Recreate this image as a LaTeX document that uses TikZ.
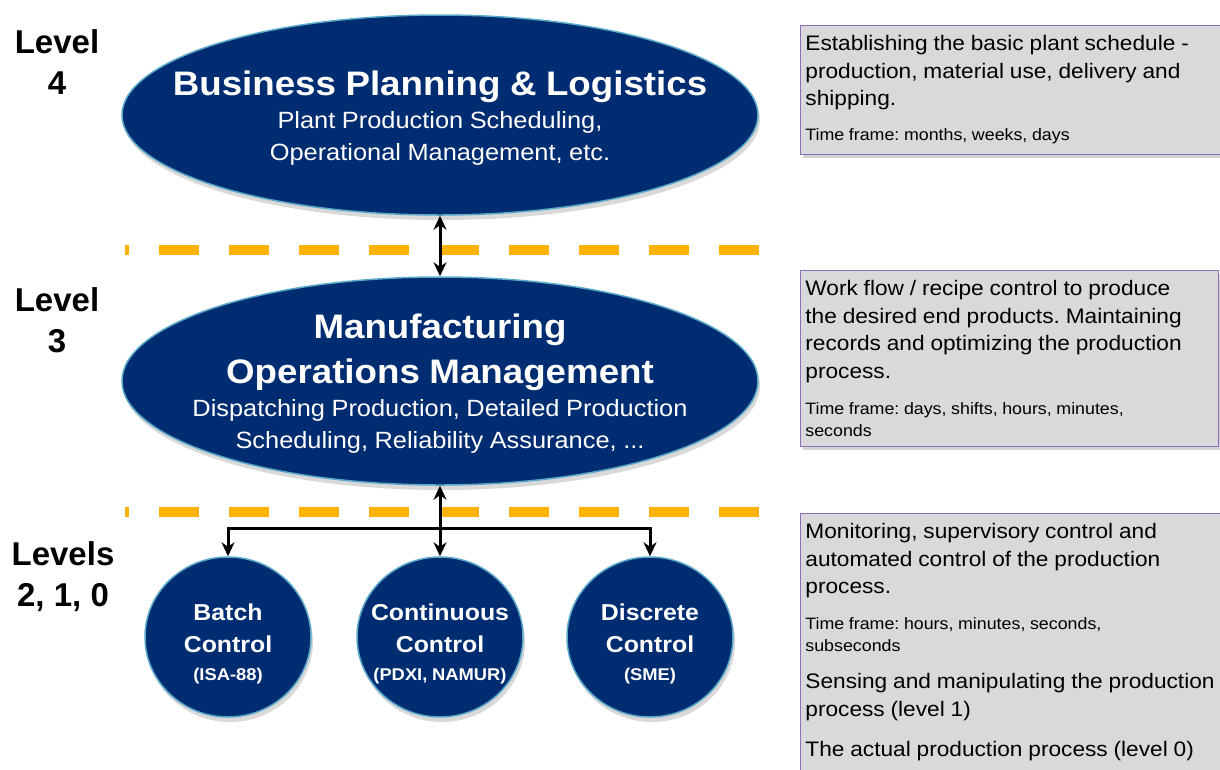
\documentclass[tikz,border=0pt]{standalone}
\usepackage{fontspec}
\setmainfont{Liberation Sans}
\newfontfamily\wide[FakeStretch=1.08]{Liberation Sans}
\usetikzlibrary{arrows.meta,shapes.geometric,shadows}

\definecolor{isanavy}{HTML}{002D72}
\definecolor{isarim}{HTML}{5AA9C8}
\definecolor{isaorange}{HTML}{FFB300}
\definecolor{notegray}{HTML}{D9D9D9}
\definecolor{notepurple}{HTML}{8A70B8}

\newcommand\plainspace{\spaceskip=0.278em\relax\xspaceskip=0.278em\relax\frenchspacing}
\newcommand\notefont{\wide\fontsize{21}{27.5}\selectfont\plainspace}
\newcommand\framefont{\wide\fontsize{16.5}{22}\selectfont\plainspace}
\newcommand\headfont{\wide\fontsize{34}{45}\selectfont\bfseries\plainspace}
\newcommand\subfont{\wide\fontsize{23.5}{31.5}\selectfont\mdseries\plainspace}
\newcommand\ctrlfont{\wide\fontsize{23}{32}\selectfont\bfseries\plainspace}
\newcommand\stdfont{\wide\fontsize{17}{28}\selectfont\bfseries\plainspace}
\newcommand\lvlfont{\fontsize{33}{41}\selectfont\bfseries\plainspace}

\tikzset{
  layer/.style={ellipse, fill=isanavy, draw=isarim, line width=1.5pt, inner sep=0pt,
    drop shadow={shadow xshift=2pt, shadow yshift=-5pt, opacity=0.3}},
  ctrl/.style={layer, minimum width=166pt, minimum height=160pt},
  inside/.style={text=white, text width=#1, align=center, inner sep=0pt},
  link/.style={line width=3pt, {Stealth[length=14pt,width=13pt]}-{Stealth[length=14pt,width=13pt]}},
  feed/.style={line width=3pt, -{Stealth[length=14pt,width=13pt]}},
  divider/.style={isaorange, line width=10pt, dash pattern=on 40pt off 30pt, dash phase=36pt},
  lvl/.style={text width=120pt, align=center, inner sep=0pt},
  note/.style={anchor=north west, fill=notegray, draw=notepurple, line width=0.8pt,
    text width=415pt, align=left, inner xsep=5pt, inner ysep=10pt,
    drop shadow={shadow xshift=3pt, shadow yshift=-4pt, opacity=0.35}}
}

\begin{document}
\begin{tikzpicture}[x=1pt,y=-1pt]
  \useasboundingbox (0,0) rectangle (1220,769);

  % levels on the left
  \node[lvl] (l4) at (57,62) {\lvlfont Level\par 4\par};
  \node[lvl] (l3) at (57,320) {\lvlfont Level\par 3\par};
  \node[lvl] (l210) at (63,577) {\lvlfont Levels\par 2, 1, 0\par};

  % separators
  \draw[divider] (125,250) -- (765,250);
  \draw[divider] (125,512) -- (765,512);

  % level 4 and 3
  \node[layer, minimum width=636pt, minimum height=200pt] (bpl) at (440,115) {};
  \node[inside=620pt, yshift=-3pt] (bpl-t) at (bpl.center)
    {\headfont Business Planning \& Logistics\par\vspace{2pt}
     \subfont Plant Production Scheduling,\par Operational Management, etc.\par};
  \node[layer, minimum width=636pt, minimum height=208pt] (mom) at (440,381) {};
  \node[inside=620pt, yshift=-2.5pt] (mom-t) at (mom.center)
    {\headfont Manufacturing\par Operations Management\par\vspace{2pt}
     \subfont Dispatching Production, Detailed Production\par
     Scheduling, Reliability Assurance, ...\par};

  % levels 2, 1, 0
  \node[ctrl] (batch) at (228,637) {};
  \node[ctrl] (cont) at (440,637) {};
  \node[ctrl] (disc) at (650,637) {};
  \node[inside=160pt, yshift=-6.5pt] (batch-t) at (batch.center) {\ctrlfont Batch\par Control\par\stdfont (ISA-88)\par};
  \node[inside=160pt, yshift=-6.5pt] (cont-t) at (cont.center) {\ctrlfont Continuous\par Control\par\stdfont (PDXI, NAMUR)\par};
  \node[inside=160pt, yshift=-6.5pt] (disc-t) at (disc.center) {\ctrlfont Discrete\par Control\par\stdfont (SME)\par};

  % connectors
  \coordinate (bar) at (440,528);
  \draw[link] (bpl.south) -- (mom.north);
  \draw[link] (mom.south) -- (cont.north);
  \draw[feed] (bar) -| (batch.north);
  \draw[feed] (bar) -| (disc.north);

  % notes on the right
  \node[note] (n4) at (800,25)
    {\notefont Establishing the basic plant schedule -\par
     production, material use, delivery and\par
     shipping.\par\vspace{13pt}
     \framefont Time frame: months, weeks, days\par};
  \node[note, text width=408pt] (n3) at (800,270)
    {\notefont Work flow / recipe control to produce\par
     the desired end products. Maintaining\par
     records and optimizing the production\par
     process.\par\vspace{14pt}
     \framefont Time frame: days, shifts, hours, minutes,\par
     seconds\par};
  \node[note] (n2) at (800,513)
    {\notefont Monitoring, supervisory control and\par
     automated control of the production\par
     process.\par\vspace{14pt}
     \framefont Time frame: hours, minutes, seconds,\par
     subseconds\par\vspace{9.5pt}
     \notefont Sensing and manipulating the production\par
     process (level 1)\par\vspace{12.5pt}
     The actual production process (level 0)\par\vspace{12pt}\strut};
\end{tikzpicture}
\end{document}
